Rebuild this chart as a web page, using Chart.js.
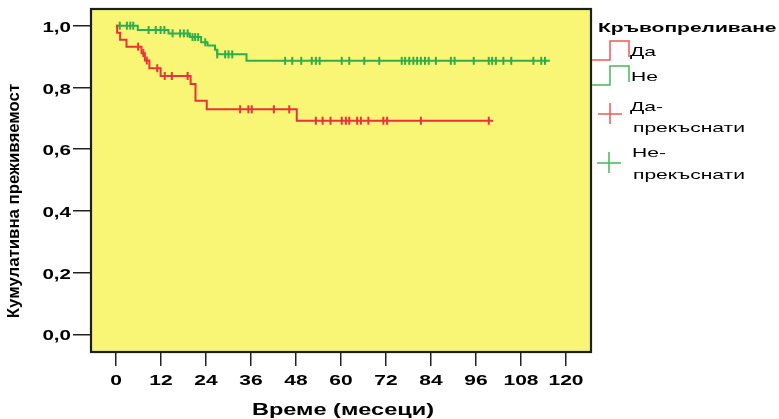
<!DOCTYPE html>
<html>
<head>
<meta charset="utf-8">
<script src="https://cdn.jsdelivr.net/npm/chart.js@4"></script>
<style>
  html, body { margin: 0; padding: 0; background: #fff; }
  #chart { display: block; }
</style>
</head>
<body>
<canvas id="chart" width="779" height="419"></canvas>
<script>
// Kaplan-Meier survival by transfusion (Кръвопреливане: Да / Не)

const xTicks = [0, 12, 24, 36, 48, 60, 72, 84, 96, 108, 120];
const yTicks = [0, 0.2, 0.4, 0.6, 0.8, 1.0];

// "Да" group: step times (months) and survival after each step
const daTimes = [0, 0.3, 1.1, 2.8, 6.8, 7.7, 8.9, 11.9, 19.9, 21.2, 24.2, 48.2, 100.6];
const daSurv  = [1.0, 0.977, 0.954, 0.932, 0.911, 0.887, 0.862, 0.837, 0.811, 0.757, 0.729, 0.692, 0.692];
const daCensored = [5.9, 7.3, 8.2, 11.0, 13.0, 14.9, 19.1, 33.1, 35.3, 36.2, 42.1, 46.2,
  53.3, 55.1, 57.2, 60.2, 61.3, 62.2, 64.3, 65.3, 67.3, 71.3, 72.3, 81.3, 99.4];

// "Не" group
const neTimes = [0, 5.8, 14.0, 19.7, 22.7, 24.4, 26.4, 27.0, 34.8, 115.7];
const neSurv  = [1.0, 0.986, 0.975, 0.963, 0.946, 0.936, 0.922, 0.907, 0.886, 0.886];
const neCensored = [1.0, 2.9, 3.8, 4.6, 8.7, 10.6, 11.9, 12.9, 15.1, 17.1, 18.1, 19.1, 20.4, 21.1,
  21.9, 23.8, 27.0, 29.1, 30.0, 31.0, 45.1, 47.0, 49.4, 52.2, 53.3, 54.3, 60.2, 62.2, 66.2, 70.2,
  76.2, 77.1, 78.2, 79.3, 80.3, 81.3, 82.4, 83.4, 85.3, 89.3, 90.3, 95.4, 99.4, 100.3, 101.3,
  103.3, 105.4, 111.3, 113.4, 114.4];

const RED = '#e8333b';
const GREEN = '#2eae4a';
const PLOT_BG = '#faf675';
const FONT = '"Liberation Sans", Arial, sans-serif';

const steps = (times, surv) => times.map((t, i) => ({ x: t, y: surv[i] }));

function survAt(times, surv, t) {
  let s = surv[0];
  times.forEach((tt, i) => { if (tt <= t) s = surv[i]; });
  return s;
}
const marks = (times, surv, cens) => cens.map(t => ({ x: t, y: survAt(times, surv, t) }));

// SPSS draws its text wide; stretch along the baseline
function wideText(ctx, text, x, y, { font, sx = 1, align = 'left', baseline = 'middle', rot = 0 }) {
  ctx.save();
  ctx.translate(x, y);
  if (rot) ctx.rotate(rot);
  ctx.scale(sx, 1);
  ctx.font = font;
  ctx.fillStyle = '#000';
  ctx.textAlign = align;
  ctx.textBaseline = baseline;
  ctx.fillText(text, 0, 0);
  ctx.restore();
}

function stepIcon(ctx, x, y, color) {
  ctx.save();
  ctx.strokeStyle = color;
  ctx.lineWidth = 1.5;
  ctx.beginPath();
  ctx.moveTo(x, y + 19);
  ctx.lineTo(x + 18, y + 19);
  ctx.lineTo(x + 18, y);
  ctx.lineTo(x + 37, y);
  ctx.lineTo(x + 37, y + 16);
  ctx.stroke();
  ctx.restore();
}

function plusIcon(ctx, x, y, color) {
  ctx.save();
  ctx.strokeStyle = color;
  ctx.lineWidth = 1.5;
  ctx.beginPath();
  ctx.moveTo(x - 12, y); ctx.lineTo(x + 12, y);
  ctx.moveTo(x, y - 11); ctx.lineTo(x, y + 10);
  ctx.stroke();
  ctx.restore();
}

const framePlugin = {
  id: 'frame',
  beforeDraw(chart) {
    const { ctx, chartArea: a } = chart;
    ctx.save();
    ctx.fillStyle = '#fff';
    ctx.fillRect(0, 0, chart.width, chart.height);
    ctx.fillStyle = PLOT_BG;
    ctx.fillRect(a.left, a.top, a.right - a.left, a.bottom - a.top);
    ctx.restore();
  },
  afterDatasetsDraw(chart) {
    const { ctx, chartArea: a } = chart;
    ctx.save();
    ctx.strokeStyle = '#1e1e1e';
    ctx.lineWidth = 2.2;
    ctx.strokeRect(a.left, a.top, a.right - a.left, a.bottom - a.top);
    ctx.restore();
  },
  afterDraw(chart) {
    const { ctx, scales: { x, y } } = chart;
    const tickFont = 'bold 15px ' + FONT;

    yTicks.forEach(v => {
      wideText(ctx, v.toFixed(1).replace('.', ','), 71, y.getPixelForValue(v) + 2,
        { font: tickFont, sx: 1.37, align: 'right' });
    });
    xTicks.forEach(v => {
      wideText(ctx, String(v), x.getPixelForValue(v), 381, { font: tickFont, sx: 1.4, align: 'center' });
    });

    wideText(ctx, 'Време (месеци)', x.getPixelForValue(60) + 2, 415,
      { font: 'bold 16px ' + FONT, sx: 1.47, align: 'center', baseline: 'alphabetic' });
    wideText(ctx, 'Кумулативна преживяемост', 19, 201,
      { font: 'bold 16px ' + FONT, sx: 1.05, align: 'center', baseline: 'alphabetic', rot: -Math.PI / 2 });

    // legend
    const itemFont = '13px ' + FONT;
    wideText(ctx, 'Кръвопреливане', 598, 29, { font: 'bold 12px ' + FONT, sx: 1.75 });
    stepIcon(ctx, 592, 41, '#f0585a');
    wideText(ctx, 'Да', 630, 52, { font: itemFont, sx: 1.62 });
    stepIcon(ctx, 592, 66, '#45b855');
    wideText(ctx, 'Не', 631, 77, { font: itemFont, sx: 1.62 });
    plusIcon(ctx, 610, 114, '#f0585a');
    wideText(ctx, 'Да-', 630, 107, { font: itemFont, sx: 1.62 });
    wideText(ctx, 'прекъснати', 633, 128, { font: itemFont, sx: 1.62 });
    plusIcon(ctx, 609, 163, '#45b855');
    wideText(ctx, 'Не-', 632, 153, { font: itemFont, sx: 1.62 });
    wideText(ctx, 'прекъснати', 633, 175, { font: itemFont, sx: 1.62 });
  },
};

const lineSet = (label, data, color) => ({
  label, data, showLine: true, stepped: true,
  borderColor: color, borderWidth: 2, pointRadius: 0, pointHoverRadius: 0,
});
const censorSet = (label, data, color) => ({
  label, data, showLine: false, pointStyle: 'line', rotation: 90,
  pointRadius: 4, borderColor: color, backgroundColor: color, borderWidth: 2,
});

new Chart(document.getElementById('chart'), {
  type: 'scatter',
  data: {
    datasets: [
      lineSet('Да', steps(daTimes, daSurv), RED),
      lineSet('Не', steps(neTimes, neSurv), GREEN),
      censorSet('Да-прекъснати', marks(daTimes, daSurv, daCensored), RED),
      censorSet('Не-прекъснати', marks(neTimes, neSurv, neCensored), GREEN),
    ],
  },
  options: {
    responsive: false,
    animation: false,
    devicePixelRatio: 1,
    layout: { padding: { top: 9, right: 188, left: 0, bottom: 0 } },
    plugins: { legend: { display: false }, tooltip: { enabled: false } },
    scales: {
      x: {
        type: 'linear', min: -6.667, max: 126.667,
        afterBuildTicks: s => { s.ticks = xTicks.map(value => ({ value })); },
        afterFit: s => { s.height = 67; },
        ticks: { display: false },
        grid: { drawOnChartArea: false, drawTicks: true, tickLength: 14, color: '#222', lineWidth: 1.5 },
        border: { display: false },
      },
      y: {
        type: 'linear', min: -0.0574, max: 1.054,
        afterBuildTicks: s => { s.ticks = yTicks.map(value => ({ value })); },
        afterFit: s => { s.width = 91; },
        ticks: { display: false },
        grid: { drawOnChartArea: false, drawTicks: true, tickLength: 18, color: '#222', lineWidth: 1.5 },
        border: { display: false },
      },
    },
  },
  plugins: [framePlugin],
});
</script>
</body>
</html>
